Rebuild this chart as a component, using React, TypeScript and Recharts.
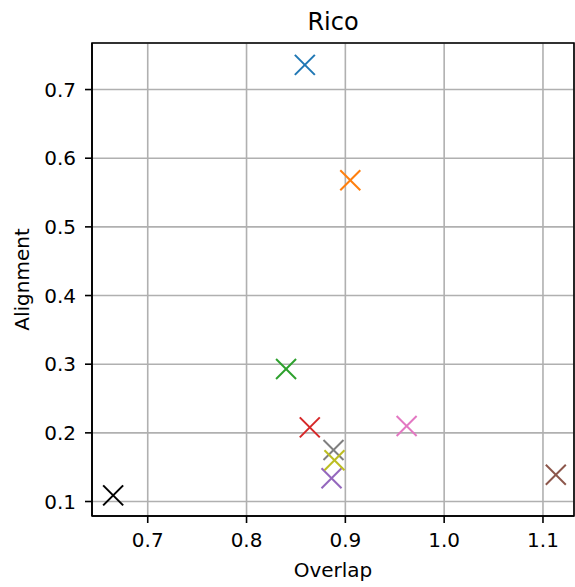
import { ScatterChart, Scatter, XAxis, YAxis, CartesianGrid, Cell, ReferenceArea } from 'recharts';

const overlap = [0.859, 0.905, 0.840, 0.864, 0.886, 1.113, 0.962, 0.888, 0.889, 0.665];
const alignment = [0.736, 0.568, 0.293, 0.208, 0.134, 0.139, 0.210, 0.175, 0.160, 0.109];
const xTicks = [0.7, 0.8, 0.9, 1.0, 1.1];
const yTicks = [0.1, 0.2, 0.3, 0.4, 0.5, 0.6, 0.7];

const COLORS = ['#1f77b4', '#ff7f0e', '#2ca02c', '#d62728', '#9467bd', '#8c564b', '#e377c2', '#7f7f7f', '#bcbd22', '#000000'];

const X_DOMAIN: [number, number] = [0.6436, 1.1314];
const Y_DOMAIN: [number, number] = [0.0789, 0.7678];
const FONT = 'DejaVu Sans, sans-serif';

const data = overlap.map((x, i) => ({ x, y: alignment[i] }));

// matplotlib-style "x" marker
const Cross = (props: any) => {
  const { cx, cy, fill } = props;
  if (cx == null || cy == null) return null;
  const r = 10;
  return (
    <g>
      <line x1={cx - r} y1={cy - r} x2={cx + r} y2={cy + r} stroke={fill} strokeWidth={2} />
      <line x1={cx - r} y1={cy + r} x2={cx + r} y2={cy - r} stroke={fill} strokeWidth={2} />
    </g>
  );
};

export default function App() {
  const tick = { fill: '#000', fontSize: 20, fontFamily: FONT };
  return (
    <div style={{ position: 'absolute', left: 0, top: 0, width: 575, height: 587, background: '#fff' }}>
      <div
        style={{
          position: 'absolute',
          left: 92,
          width: 482,
          top: 8,
          lineHeight: '28px',
          textAlign: 'center',
          fontFamily: FONT,
          fontSize: 24,
          color: '#000',
        }}
      >
        Rico
      </div>
      <ScatterChart width={575} height={587} margin={{ top: 43, right: 1, bottom: 0, left: 0 }}>
        <CartesianGrid stroke="#b0b0b0" strokeWidth={1.6} />
        <XAxis
          type="number"
          dataKey="x"
          domain={X_DOMAIN}
          ticks={xTicks}
          allowDataOverflow
          tickFormatter={(v: number) => v.toFixed(1)}
          tick={tick}
          tickSize={7}
          tickMargin={10}
          stroke="#000"
          strokeWidth={1.6}
          height={71}
          label={{ value: 'Overlap', position: 'insideBottom', offset: 10, fill: '#000', fontSize: 20, fontFamily: FONT }}
        />
        <YAxis
          type="number"
          dataKey="y"
          domain={Y_DOMAIN}
          ticks={yTicks}
          allowDataOverflow
          tickFormatter={(v: number) => v.toFixed(1)}
          tick={tick}
          tickSize={7}
          tickMargin={9}
          stroke="#000"
          strokeWidth={1.6}
          width={92}
          label={{
            value: 'Alignment',
            angle: -90,
            position: 'insideLeft',
            offset: 22,
            fill: '#000',
            fontSize: 20,
            fontFamily: FONT,
            style: { textAnchor: 'middle' },
          }}
        />
        <ReferenceArea
          x1={X_DOMAIN[0]}
          x2={X_DOMAIN[1]}
          y1={Y_DOMAIN[0]}
          y2={Y_DOMAIN[1]}
          fill="none"
          stroke="#000"
          strokeWidth={1.6}
          fillOpacity={0}
        />
        <Scatter data={data} shape={<Cross />} isAnimationActive={false}>
          {data.map((_, i) => (
            <Cell key={i} fill={COLORS[i]} />
          ))}
        </Scatter>
      </ScatterChart>
    </div>
  );
}
